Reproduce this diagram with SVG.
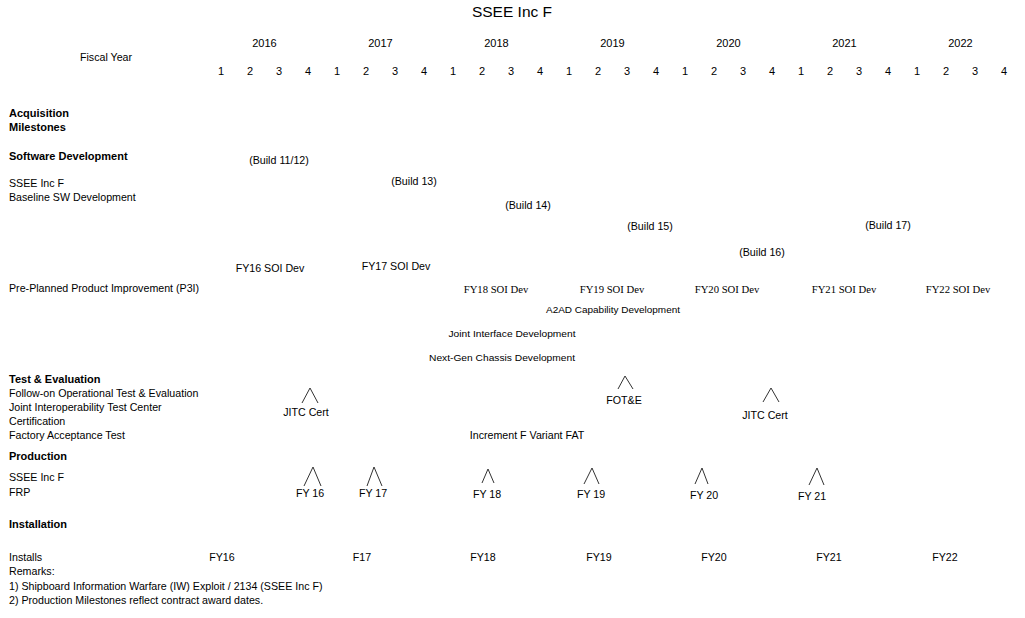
<svg xmlns="http://www.w3.org/2000/svg" width="1025" height="618" viewBox="0 0 1025 618">
<style>
text{font-family:"Liberation Sans",Arial,sans-serif;fill:#000;font-size:10.67px}
.b{font-weight:bold;font-size:11px}
.c{text-anchor:middle}
.hdr{font-size:11px;text-anchor:middle}
.ser{font-family:"Liberation Serif","Times New Roman",serif}
.sm{font-size:9px;text-anchor:middle}
.ms{fill:none;stroke:#333;stroke-width:1}
</style>
<rect width="1025" height="618" fill="#fff"/>
<g id="title"><text x="512" y="17" class="c" style="font-size:15.5px">SSEE Inc F</text></g>
<g id="timeline">
<text x="106" y="61" class="c">Fiscal Year</text>
<text x="264.5" y="47" class="hdr">2016</text>
<text x="380.5" y="47" class="hdr">2017</text>
<text x="496.5" y="47" class="hdr">2018</text>
<text x="612.5" y="47" class="hdr">2019</text>
<text x="728.5" y="47" class="hdr">2020</text>
<text x="844.5" y="47" class="hdr">2021</text>
<text x="960.5" y="47" class="hdr">2022</text>
<text y="75" class="hdr"><tspan x="221">1</tspan><tspan x="250">2</tspan><tspan x="279">3</tspan><tspan x="308">4</tspan><tspan x="337">1</tspan><tspan x="366">2</tspan><tspan x="395">3</tspan><tspan x="424">4</tspan><tspan x="453">1</tspan><tspan x="482">2</tspan><tspan x="511">3</tspan><tspan x="540">4</tspan><tspan x="569">1</tspan><tspan x="598">2</tspan><tspan x="627">3</tspan><tspan x="656">4</tspan><tspan x="685">1</tspan><tspan x="714">2</tspan><tspan x="743">3</tspan><tspan x="772">4</tspan><tspan x="801">1</tspan><tspan x="830">2</tspan><tspan x="859">3</tspan><tspan x="888">4</tspan><tspan x="917">1</tspan><tspan x="946">2</tspan><tspan x="975">3</tspan><tspan x="1004">4</tspan></text>
</g>
<g id="row-labels">
<text x="9" y="117" class="b">Acquisition</text>
<text x="9" y="131" class="b">Milestones</text>
<text x="9" y="160" class="b">Software Development</text>
<text x="9" y="187">SSEE Inc F</text>
<text x="9" y="201">Baseline SW Development</text>
<text x="9" y="292">Pre-Planned Product Improvement (P3I)</text>
<text x="9" y="383" class="b">Test &amp; Evaluation</text>
<text x="9" y="397">Follow-on Operational Test &amp; Evaluation</text>
<text x="9" y="411">Joint Interoperability Test Center</text>
<text x="9" y="425">Certification</text>
<text x="9" y="439">Factory Acceptance Test</text>
<text x="9" y="460" class="b">Production</text>
<text x="9" y="481">SSEE Inc F</text>
<text x="9" y="496">FRP</text>
<text x="9" y="528" class="b">Installation</text>
<text x="9" y="561">Installs</text>
<text x="9" y="575">Remarks:</text>
<text x="9" y="590">1) Shipboard Information Warfare (IW) Exploit / 2134 (SSEE Inc F)</text>
<text x="9" y="604">2) Production Milestones reflect contract award dates.</text>
</g>
<g id="builds">
<text x="279" y="164" class="c">(Build 11/12)</text>
<text x="414" y="185" class="c">(Build 13)</text>
<text x="528" y="209" class="c">(Build 14)</text>
<text x="650" y="230" class="c">(Build 15)</text>
<text x="762" y="256" class="c">(Build 16)</text>
<text x="888" y="229" class="c">(Build 17)</text>
</g>
<g id="p3i">
<text x="270" y="272" class="c">FY16 SOI Dev</text>
<text x="396" y="270" class="c">FY17 SOI Dev</text>
<text x="496" y="293" class="c ser">FY18 SOI Dev</text>
<text x="612" y="293" class="c ser">FY19 SOI Dev</text>
<text x="727" y="293" class="c ser">FY20 SOI Dev</text>
<text x="844" y="293" class="c ser">FY21 SOI Dev</text>
<text x="958" y="293" class="c ser">FY22 SOI Dev</text>
<text x="613" y="313" class="sm" textLength="134" lengthAdjust="spacingAndGlyphs">A2AD Capability Development</text>
<text x="512" y="337" class="sm" textLength="127" lengthAdjust="spacingAndGlyphs">Joint Interface Development</text>
<text x="502" y="361" class="sm" textLength="146" lengthAdjust="spacingAndGlyphs">Next-Gen Chassis Development</text>
</g>
<g id="test-eval">
<g id="jitc-2016"><polyline class="ms" points="302,403 310,388 318,403"/><text x="306" y="416" class="c">JITC  Cert</text></g>
<g id="fote"><polyline class="ms" points="618,389 625,376 633,389"/><text x="624" y="404" class="c">FOT&amp;E</text></g>
<g id="jitc-2020"><polyline class="ms" points="763,402 771,388 779,402"/><text x="765" y="419" class="c">JITC  Cert</text></g>
<text x="527" y="439" class="c">Increment F Variant FAT</text>
</g>
<g id="production">
<g id="frp-fy16"><polyline class="ms" points="304,486 313,467 321,486"/><text x="310" y="497" class="c">FY 16</text></g>
<g id="frp-fy17"><polyline class="ms" points="367,486 374,467 382,486"/><text x="373" y="497" class="c">FY 17</text></g>
<g id="frp-fy18"><polyline class="ms" points="482,483 488,469 494,483"/><text x="487" y="498" class="c">FY 18</text></g>
<g id="frp-fy19"><polyline class="ms" points="584,484 592,468 599,484"/><text x="591" y="498" class="c">FY 19</text></g>
<g id="frp-fy20"><polyline class="ms" points="695,484 702,468 708,484"/><text x="704" y="499" class="c">FY 20</text></g>
<g id="frp-fy21"><polyline class="ms" points="809,485 817,468 824,485"/><text x="812" y="500" class="c">FY 21</text></g>
</g>
<g id="installs">
<text x="222" y="561" class="c">FY16</text>
<text x="362" y="561" class="c">F17</text>
<text x="483" y="561" class="c">FY18</text>
<text x="599" y="561" class="c">FY19</text>
<text x="714" y="561" class="c">FY20</text>
<text x="829" y="561" class="c">FY21</text>
<text x="945" y="561" class="c">FY22</text>
</g>
<g id="connectors"/>
</svg>
